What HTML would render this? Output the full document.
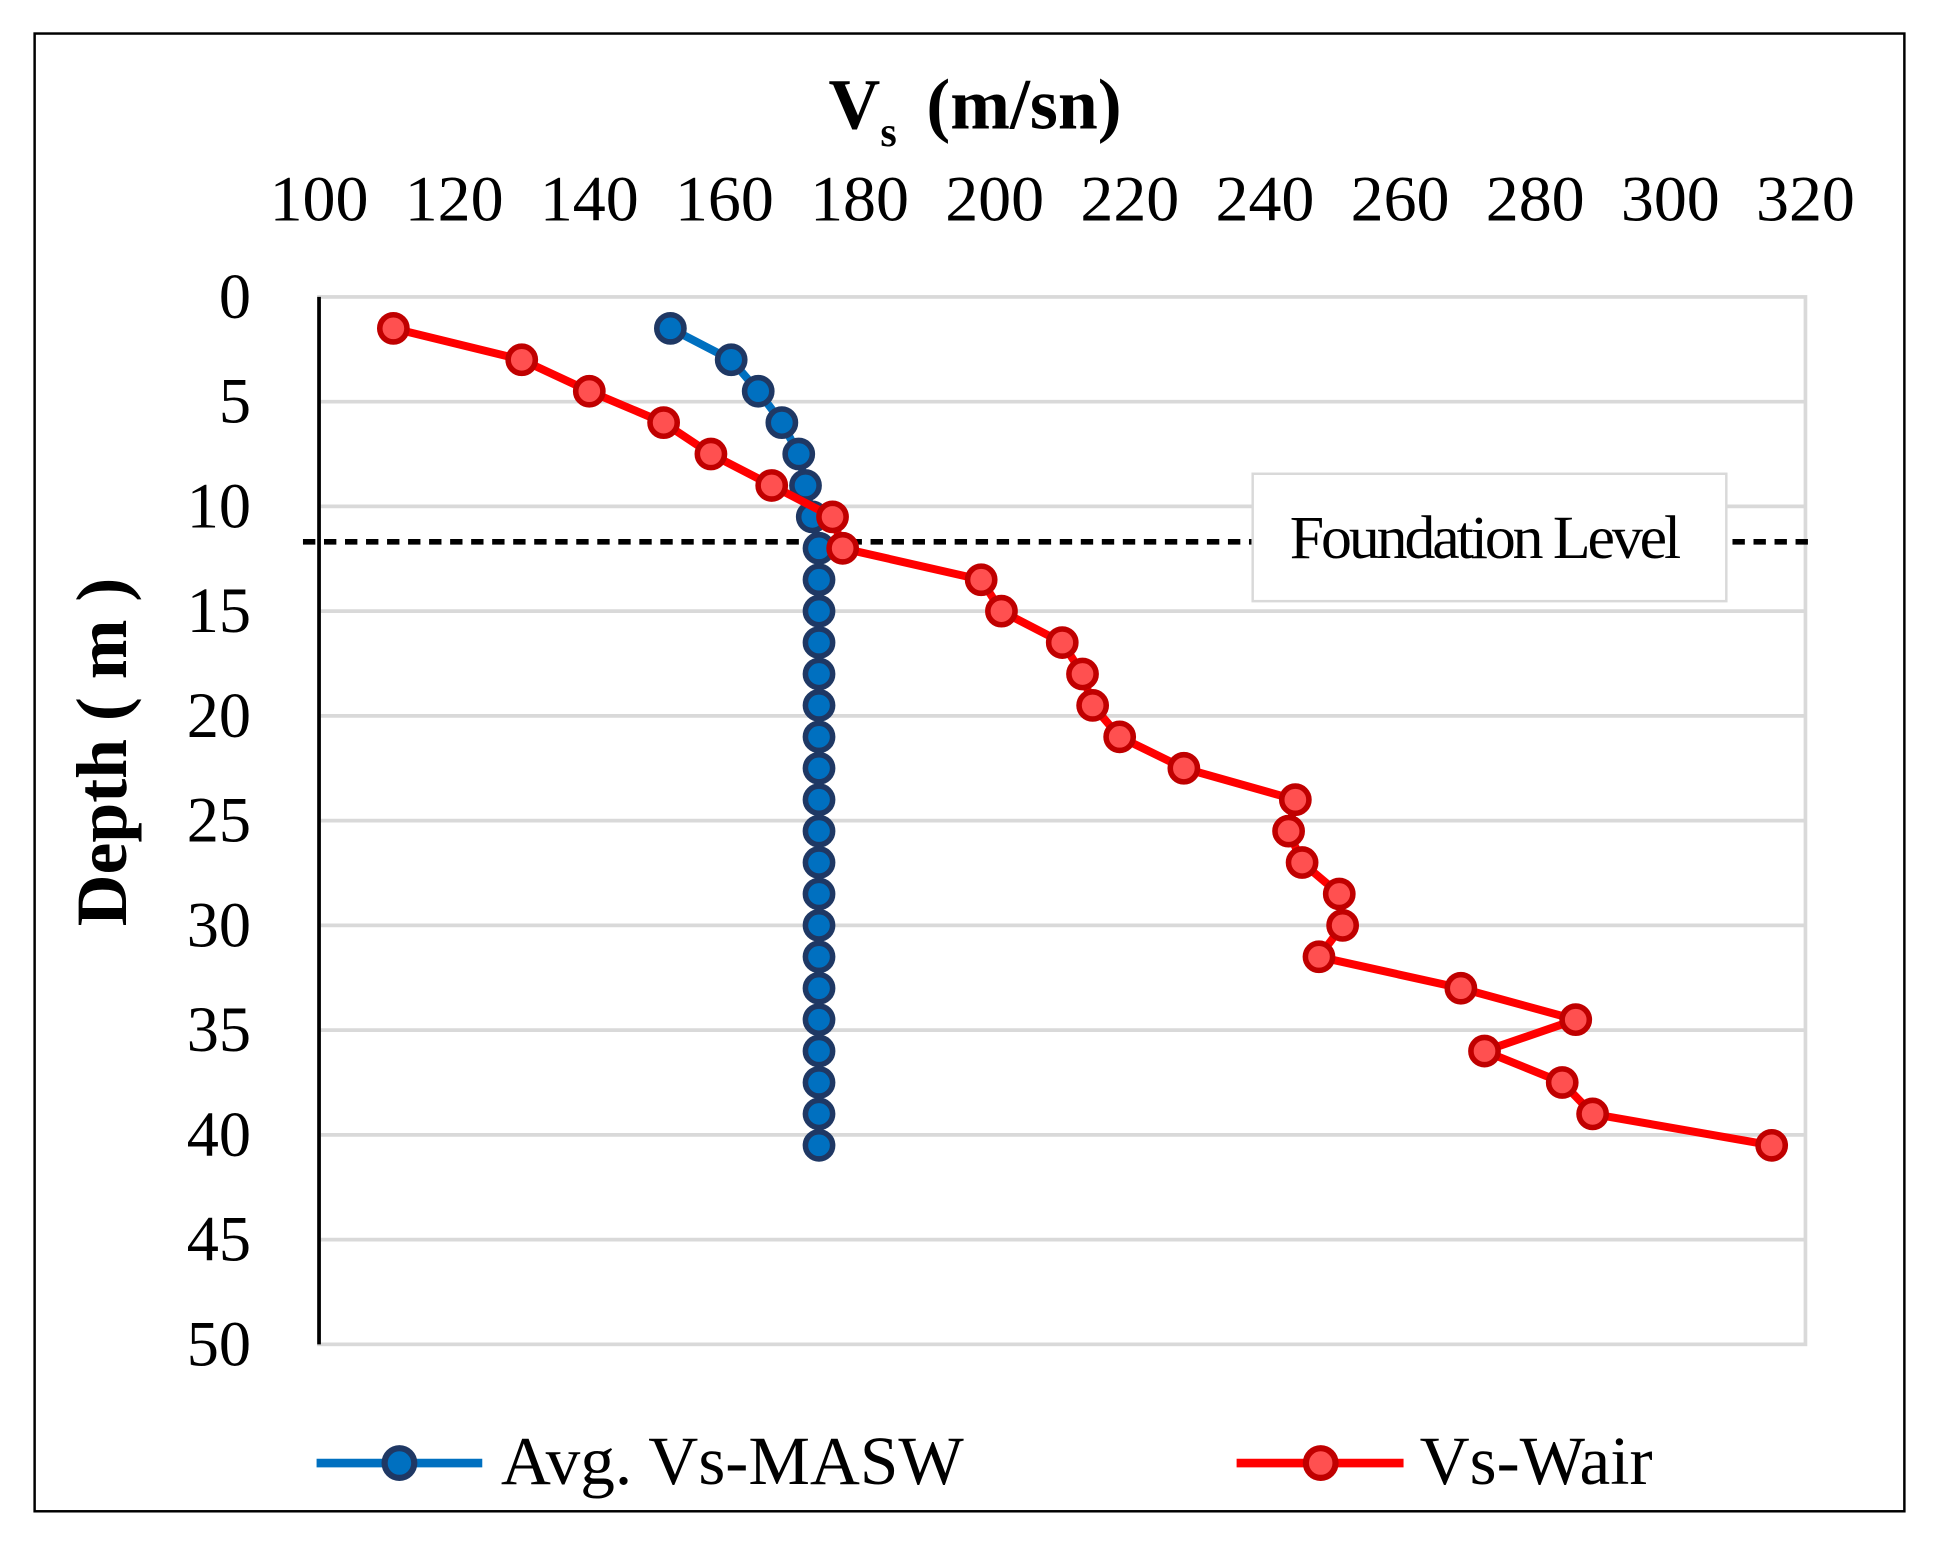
<!DOCTYPE html>
<html><head><meta charset="utf-8"><style>html,body{margin:0;padding:0;background:#fff}svg{display:block}</style></head>
<body>
<svg width="1939" height="1551" viewBox="0 0 1568 1254" xmlns="http://www.w3.org/2000/svg" font-family="'Liberation Serif', serif">
<rect x="28" y="27" width="1512" height="1195" fill="#fff" stroke="#000" stroke-width="2"/>
<g id="grid"></g>
<g id="xticks"></g>
<g id="yticks"></g>
<text x="670" y="104" font-size="58" font-weight="bold">V<tspan font-size="34" dy="14">s</tspan><tspan dy="-14" dx="24">(m/sn)</tspan></text>
<text transform="translate(102,608) rotate(-90)" text-anchor="middle" font-size="58" font-weight="bold">Depth ( m )</text>
<line x1="245" x2="1462" y1="438" y2="438" stroke="#000" stroke-width="4.5" stroke-dasharray="10,7"/>
<rect x="1013" y="383" width="383" height="103" fill="#fff" stroke="#d9d9d9" stroke-width="2"/>
<text x="1200" y="451" text-anchor="middle" font-size="50" letter-spacing="-2.5">Foundation Level</text>
<g id="series"></g>
<g>
<line x1="256" x2="390" y1="1183" y2="1183" stroke="#0070c0" stroke-width="7"/>
<circle cx="323" cy="1183" r="12" fill="#0070c0" stroke="#1f3864" stroke-width="5"/>
<text x="405" y="1200" font-size="56">Avg. Vs-MASW</text>
<line x1="1000" x2="1135" y1="1183" y2="1183" stroke="#ff0000" stroke-width="7"/>
<circle cx="1068" cy="1183" r="12" fill="#ff5050" stroke="#c00000" stroke-width="5"/>
<text x="1148" y="1200" font-size="56">Vs-Wair</text>
</g>
</svg>
<script>
const xTicks=[100,120,140,160,180,200,220,240,260,280,300,320];
const yTicks=[0,5,10,15,20,25,30,35,40,45,50];
const depths=[1.5,3,4.5,6,7.5,9,10.5,12,13.5,15,16.5,18,19.5,21,22.5,24,25.5,27,28.5,30,31.5,33,34.5,36,37.5,39,40.5];
const maswVs=[152,161,165,168.5,171,172,173,174,174,174,174,174,174,174,174,174,174,174,174,174,174,174,174,174,174,174,174];
const wairVs=[111,130,140,151,158,167,176,177.5,198,201,210,213,214.5,218.5,228,244.5,243.5,245.5,251,251.5,248,269,286,272.5,284,288.5,315];
const L=258,R=1460,T=240,B=1087;
const X=v=>L+(v-100)/220*(R-L);
const Y=d=>T+d/50*(B-T);
const NS='http://www.w3.org/2000/svg';
function mk(tag,attrs,parent){const e=document.createElementNS(NS,tag);for(const k in attrs)e.setAttribute(k,attrs[k]);parent.appendChild(e);return e;}
const grid=document.getElementById('grid');
yTicks.forEach(t=>{if(t===0||t===50)return;const l=mk('line',{x1:L,x2:R,y1:Y(t),y2:Y(t),stroke:'#d9d9d9','stroke-width':3},grid);

});
const fr=mk('rect',{x:L,y:T,width:R-L,height:B-T,fill:'none',stroke:'#d9d9d9','stroke-width':3},grid);


const ax=mk('line',{x1:L,x2:L,y1:T,y2:B,stroke:'#000','stroke-width':3},grid);


const xg=document.getElementById('xticks');
xTicks.forEach(t=>{const e=mk('text',{x:X(t),y:178,'text-anchor':'middle','font-size':52,'textLength':80,'lengthAdjust':'spacingAndGlyphs'},xg);e.textContent=t;

});
const yg=document.getElementById('yticks');
yTicks.forEach(t=>{const e=mk('text',{x:203,y:Y(t)+17,'text-anchor':'end','font-size':52},yg);e.textContent=t;

});
const sg=document.getElementById('series');
function series(vals,line,fill,stroke,name){
const g=mk('g',{},sg);


const pts=vals.map((v,i)=>X(v)+','+Y(depths[i])).join(' ');
mk('polyline',{points:pts,fill:'none',stroke:line,'stroke-width':6.5,'stroke-linejoin':'round'},g);
vals.forEach((v,i)=>{const c=mk('circle',{cx:X(v),cy:Y(depths[i]),r:11,fill:fill,stroke:stroke,'stroke-width':4.5},g);

});
}
series(maswVs,'#0070c0','#0070c0','#1f3864','masw-series');
series(wairVs,'#ff0000','#ff5050','#c00000','wair-series');
</script>
</body></html>
